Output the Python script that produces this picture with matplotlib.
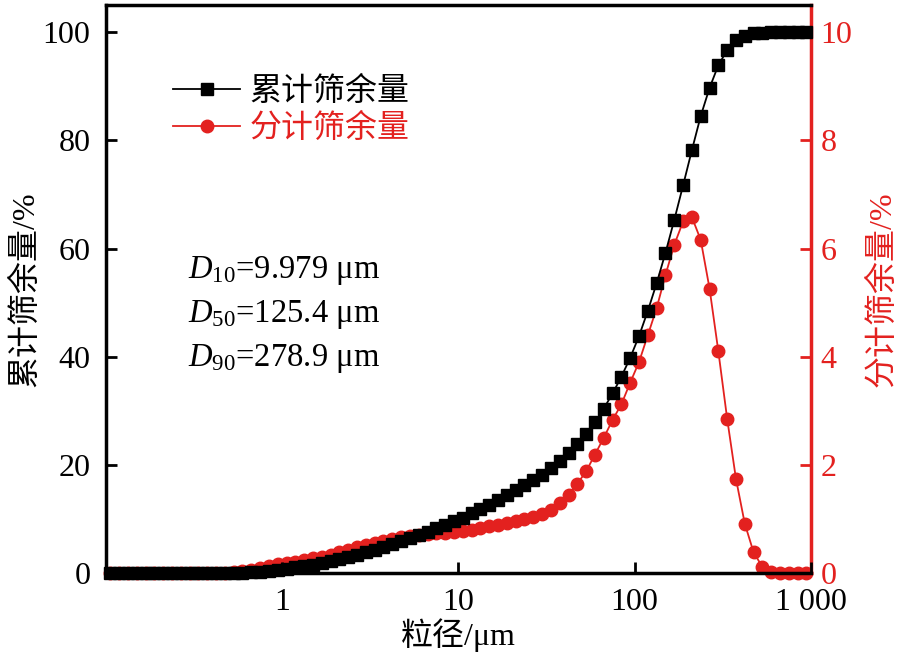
import matplotlib
matplotlib.use("Agg")
import matplotlib.pyplot as plt
from matplotlib.ticker import NullLocator, FixedLocator

plt.rcParams['font.family'] = ['Liberation Serif', 'Noto Sans CJK SC']
plt.rcParams['mathtext.fontset'] = 'custom'
plt.rcParams['mathtext.it'] = 'Liberation Serif:italic'
plt.rcParams['mathtext.rm'] = 'Liberation Serif'

RED = '#e3211f'

# particle size classes (µm)
size_um = [0.1059, 0.1189, 0.1334, 0.1496, 0.1679, 0.1884, 0.2113, 0.2371, 0.2661, 0.2985,
           0.3350, 0.3758, 0.4217, 0.4732, 0.5309, 0.5957, 0.6683, 0.7499, 0.8414, 0.9441,
           1.059, 1.189, 1.334, 1.496, 1.679, 1.884, 2.113, 2.371, 2.661, 2.985,
           3.350, 3.758, 4.217, 4.732, 5.309, 5.957, 6.683, 7.499, 8.414, 9.441,
           10.59, 11.89, 13.34, 14.96, 16.79, 18.84, 21.13, 23.71, 26.61, 29.85,
           33.50, 37.58, 42.17, 47.32, 53.09, 59.57, 66.83, 74.99, 84.14, 94.41,
           105.9, 118.9, 133.4, 149.6, 167.9, 188.4, 211.3, 237.1, 266.1, 298.5,
           335.0, 375.8, 421.7, 473.2, 530.9, 595.7, 668.3, 749.9, 841.4, 944.1]

# cumulative (%) - left axis
cumulative = [0, 0, 0, 0, 0, 0, 0, 0, 0, 0,
              0, 0, 0, 0, 0, 0.05, 0.1, 0.2, 0.35, 0.55,
              0.75, 1.0, 1.25, 1.55, 1.9, 2.25, 2.6, 3.0, 3.4, 3.85,
              4.3, 4.8, 5.3, 5.85, 6.4, 7.0, 7.6, 8.25, 8.9, 9.55,
              10.2, 11.0, 11.8, 12.6, 13.5, 14.4, 15.3, 16.2, 17.1, 18.2,
              19.4, 20.7, 22.1, 23.8, 25.7, 27.9, 30.4, 33.2, 36.3, 39.8,
              43.8, 48.5, 53.6, 59.2, 65.3, 71.7, 78.2, 84.5, 89.7, 93.9,
              96.7, 98.5, 99.4, 99.8, 99.95, 100, 100, 100, 100, 100]

# fractional (%) - right axis
fractional = [0, 0, 0, 0, 0, 0, 0, 0, 0, 0,
              0, 0, 0, 0, 0.01, 0.03, 0.06, 0.09, 0.13, 0.16,
              0.18, 0.21, 0.24, 0.27, 0.30, 0.34, 0.38, 0.43, 0.47, 0.51,
              0.55, 0.59, 0.63, 0.66, 0.69, 0.71, 0.72, 0.73, 0.74, 0.76,
              0.78, 0.80, 0.83, 0.86, 0.89, 0.92, 0.96, 1.00, 1.04, 1.09,
              1.17, 1.29, 1.45, 1.65, 1.88, 2.19, 2.50, 2.83, 3.12, 3.52,
              3.90, 4.40, 4.90, 5.51, 6.07, 6.50, 6.58, 6.16, 5.26, 4.10,
              2.85, 1.74, 0.91, 0.38, 0.11, 0.02, 0, 0, 0, 0]

series_labels = ['累计筛余量', '分计筛余量']
x_ticks = [1, 10, 100, 1000]
x_ticklabels = ['1', '10', '100', '1 000']
left_ticks = [0, 20, 40, 60, 80, 100]
right_ticks = [0, 2, 4, 6, 8, 10]
d_texts = [r'$D_{10}$=9.979 μm', r'$D_{50}$=125.4 μm', r'$D_{90}$=278.9 μm']

fig = plt.figure(figsize=(9.05, 6.54), dpi=100)
ax = fig.add_axes([0.117, 0.124, 0.779, 0.868])
ax2 = ax.twinx()
ax.set_zorder(ax2.get_zorder() + 1)
ax.patch.set_visible(False)

l_red, = ax2.plot(size_um, fractional, '-o', color=RED, ms=9, lw=1.3, clip_on=False)
l_blk, = ax.plot(size_um, cumulative, '-s', color='k', ms=8.3, lw=1.3, clip_on=False)

ax.set_xscale('log')
ax.set_xlim(0.1, 1000)
ax.set_ylim(0, 105)
ax2.set_ylim(0, 10.5)
ax.xaxis.set_major_locator(FixedLocator(x_ticks))
ax.xaxis.set_minor_locator(NullLocator())
ax.set_xticklabels(x_ticklabels)
ax.set_yticks(left_ticks)
ax2.set_yticks(right_ticks)

for a in (ax, ax2):
    for s in a.spines.values():
        s.set_linewidth(2.5)
ax.spines['right'].set_visible(False)
ax2.spines['right'].set_color(RED)
ax2.spines['left'].set_visible(False)
ax2.spines['top'].set_visible(False)
ax2.spines['bottom'].set_visible(False)

ax.tick_params(axis='both', direction='in', length=8, width=2, labelsize=23)
ax.tick_params(axis='x', pad=11)
ax.tick_params(axis='y', right=False, pad=11)
ax2.tick_params(axis='y', direction='in', length=8, width=2, labelsize=23, colors=RED, pad=7)

ax.set_xlabel('粒径/μm', fontsize=23, labelpad=1)
ax.set_ylabel('累计筛余量/%', fontsize=23, labelpad=2)
ax2.set_ylabel('分计筛余量/%', fontsize=23, color=RED, rotation=90, labelpad=11)

leg = ax.legend([l_blk, l_red], series_labels, loc='upper left',
                bbox_to_anchor=(173 / 905, 1 - 77 / 654), bbox_transform=fig.transFigure,
                frameon=False, fontsize=23, handlelength=2.1, handletextpad=0.3,
                labelspacing=0.2, borderpad=0, borderaxespad=0)
leg.get_texts()[1].set_color(RED)

for i, t in enumerate(d_texts):
    fig.text(188 / 905, 1 - (278 + 44 * i) / 654, t, fontsize=23.5, va='baseline')

fig.savefig('out.png', dpi=100)
